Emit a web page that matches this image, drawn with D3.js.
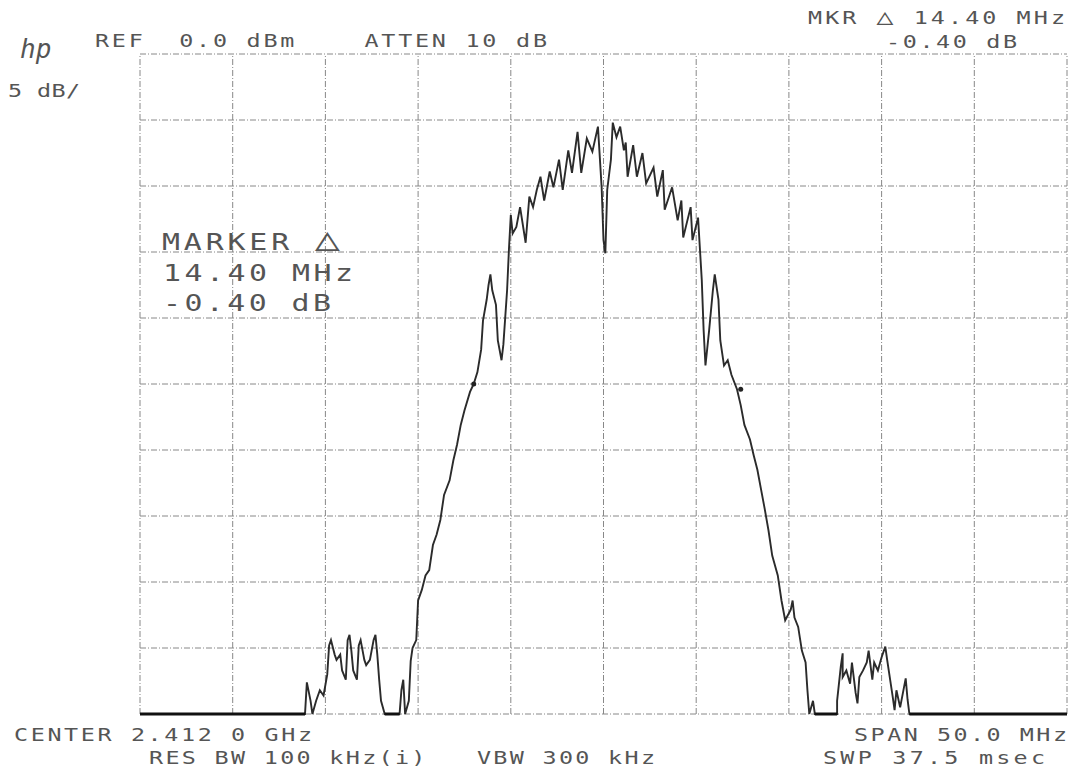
<!DOCTYPE html>
<html>
<head>
<meta charset="utf-8">
<script src="https://cdn.jsdelivr.net/npm/d3@7"></script>
<style>
  body { margin: 0; background: #fff; }
  svg text { font-family: "DejaVu Sans Mono", "Liberation Mono", monospace; fill: #555; white-space: pre; }
</style>
</head>
<body>
<div id="chart"></div>
<script>
// Analyzer settings
const centerGHz = 2.412;
const spanMHz = 50;
const refDbm = 0;
const dbPerDiv = 5;
const divisions = 10;

// Trace, frequency offset from center (MHz) and level (dBm)
const traceMHz = [-25, -16.1, -16.0, -15.8, -15.7, -15.5, -15.3, -15.1, -14.9, -14.8, -14.7, -14.5, -14.4, -14.2, -14.1, -13.9, -13.8, -13.7, -13.6, -13.5, -13.3, -13.2, -13.1, -12.9, -12.8, -12.6, -12.4, -12.3, -12.2, -12.1, -12.0, -11.8, -11.0, -10.9, -10.8, -10.7, -10.5, -10.4, -10.3, -10.1, -10.0,
  -9.8, -9.6, -9.4, -9.2, -9.0, -8.8, -8.6, -8.3, -8.1, -7.9, -7.7, -7.5, -7.2, -7.0, -6.8, -6.6, -6.5, -6.3, -6.2, -6.1, -6.0, -5.8, -5.7, -5.5, -5.4, -5.2, -5.1, -5.0,
  -4.9, -4.7, -4.5, -4.2, -4.0, -3.8, -3.6, -3.4, -3.2, -2.9, -2.7, -2.4, -2.2, -1.9, -1.7, -1.4, -1.2, -0.9, -0.6, -0.3, -0.1, 0.0, 0.1, 0.2, 0.4, 0.5, 0.7, 0.9, 1.1, 1.2, 1.3, 1.6, 1.8, 2.1, 2.3, 2.7, 2.9, 3.2, 3.3, 3.7, 4.0, 4.2, 4.3, 4.7, 4.8, 5.1, 5.3,
  5.4, 5.5, 5.7, 5.9, 6.0, 6.2, 6.3, 6.5, 6.7, 6.9, 7.2, 7.4, 7.6, 7.9, 8.1, 8.3, 8.5, 8.7, 8.9, 9.1, 9.4, 9.6, 9.8, 10.1, 10.2, 10.3, 10.5, 10.7, 10.9, 11.0, 11.1, 11.3, 11.4,
  12.6, 12.6, 12.8, 12.9, 12.9, 13.1, 13.3, 13.4, 13.6, 13.7, 13.8, 14.0, 14.2, 14.3, 14.5, 14.6, 14.8, 15.0, 15.2, 15.3, 15.6, 15.7, 15.8, 16.0, 16.3, 16.4, 16.5, 25];
const traceDbm = [-50, -50, -47.6, -49.0, -50, -49.0, -48.2, -48.6, -47.0, -44.8, -44.4, -45.5, -45.9, -45.5, -46.7, -47.4, -44.4, -44.0, -45.2, -46.7, -47.4, -44.8, -44.4, -45.9, -46.3, -45.9, -44.4, -44.0, -45.5, -47.4, -49.0, -50, -50, -48.2, -47.4, -50, -49.0, -46.0, -45.0, -44.4, -41.4,
  -40.6, -39.5, -39.1, -37.2, -36.4, -35.3, -33.4, -32.3, -30.8, -29.6, -28.1, -27.0, -25.6, -25.0, -24.1, -22.4, -20.2, -18.6, -17.5, -16.7, -17.9, -19.0, -21.7, -23.2, -22.0, -17.9, -14.8, -12.2,
  -13.6, -13.1, -11.6, -14.3, -10.8, -11.6, -10.3, -9.3, -11.1, -8.9, -10.1, -8.0, -10.3, -7.3, -9.0, -5.9, -9.0, -6.4, -7.4, -5.5, -10.1, -14.1, -15.1, -10.3, -8.0, -5.2, -6.3, -5.5, -7.3, -6.7, -9.3, -6.9, -9.3, -7.5, -9.8, -8.6, -10.8, -8.8, -11.8, -10.1, -12.6, -11.1, -13.9, -11.6, -14.1, -12.4, -17.1,
  -20.9, -23.6, -20.9, -17.9, -16.7, -18.6, -21.7, -23.6, -23.2, -24.3, -25.4, -26.6, -28.1, -29.2, -30.4, -31.5, -33.0, -34.5, -36.1, -38.0, -39.5, -41.4, -42.9, -42.1, -41.4, -42.7, -43.4, -45.2, -46.1, -48.2, -50, -49.0, -50,
  -50, -49.0, -46.4, -45.4, -47.2, -46.7, -47.7, -46.1, -48.4, -49.2, -47.2, -46.7, -46.1, -45.2, -47.4, -46.1, -46.7, -45.7, -44.9, -45.9, -48.7, -49.7, -48.2, -49.5, -47.3, -48.9, -50, -50];

// Delta marker pair
const markerMHz = [-7.0, 7.4];
const markerDbm = [-25.0, -25.4];

// Annotation texts
const topLeftText = "REF  0.0 dBm    ATTEN 10 dB";
const scaleText = "5 dB/";
const mkrLines = ["MKR \u25b3 14.40 MHz", "-0.40 dB"];
const markerBox = ["MARKER \u25b3", "14.40 MHz", "-0.40 dB"];
const bottomLeft = ["CENTER 2.412 0 GHz", "RES BW 100 kHz(i)   VBW 300 kHz"];
const bottomRight = ["SPAN 50.0 MHz", "SWP 37.5 msec"];

const width = 1074;
const height = 770;
const marginTop = 54;
const marginRight = 7;
const marginBottom = 56;
const marginLeft = 140;

const svg = d3.select("#chart")
  .append("svg")
  .attr("width", width)
  .attr("height", height)
  .attr("viewBox", [0, 0, width, height]);

const x = d3.scaleLinear()
  .domain([-spanMHz / 2, spanMHz / 2])
  .range([marginLeft, width - marginRight]);

const y = d3.scaleLinear()
  .domain([refDbm - dbPerDiv * divisions, refDbm])
  .range([height - marginBottom, marginTop]);

const xTicks = d3.range(divisions + 1).map(i => -spanMHz / 2 + i * spanMHz / divisions);
const yTicks = d3.range(divisions + 1).map(i => refDbm - i * dbPerDiv);

// graticule, dash-dot like the plotter pen
const grid = svg.append("g")
  .attr("stroke", "#747474")
  .attr("stroke-width", 1)
  .attr("stroke-dasharray", "6 2 1 2")
  .attr("opacity", 0.85);

grid.selectAll(".vline")
  .data(xTicks)
  .join("line")
  .attr("x1", d => x(d)).attr("x2", d => x(d))
  .attr("y1", y.range()[0]).attr("y2", y.range()[1]);

grid.selectAll(".hline")
  .data(yTicks)
  .join("line")
  .attr("x1", x.range()[0]).attr("x2", x.range()[1])
  .attr("y1", d => y(d)).attr("y2", d => y(d));

// trace
const trace = traceMHz.map((f, i) => [f, traceDbm[i]]);
const line = d3.line()
  .x(d => x(d[0]))
  .y(d => y(d[1]));

svg.append("path")
  .datum(trace)
  .attr("fill", "none")
  .attr("stroke", "#2b2b2b")
  .attr("stroke-width", 1.9)
  .attr("stroke-linejoin", "miter")
  .attr("d", line);

// floor segments are drawn heavier
svg.append("g")
  .selectAll("line")
  .data(d3.pairs(trace).filter(([a, b]) => a[1] === b[1] && a[1] === y.domain()[0]))
  .join("line")
  .attr("x1", d => x(d[0][0])).attr("x2", d => x(d[1][0]))
  .attr("y1", d => y(d[0][1])).attr("y2", d => y(d[1][1]))
  .attr("stroke", "#111")
  .attr("stroke-width", 3);

// markers
svg.append("g")
  .selectAll("circle")
  .data(markerMHz)
  .join("circle")
  .attr("cx", d => x(d))
  .attr("cy", (d, i) => y(markerDbm[i]))
  .attr("r", 2.5)
  .attr("fill", "#222");

// hp logo
svg.append("text")
  .attr("x", 20).attr("y", 58)
  .attr("font-size", 26)
  .attr("font-style", "italic")
  .attr("font-family", "DejaVu Serif")
  .style("fill", "#555")
  .text("hp");

// plotter lettering is wide, so stretch glyphs horizontally
const stretch = 1.3;
const label = (str, x0, y0, size, len, triScale = 1.4) => {
  const t = svg.append("text")
    .attr("transform", `scale(${stretch},1)`)
    .attr("x", x0 / stretch).attr("y", y0)
    .attr("font-size", size)
    .attr("textLength", len / stretch)
    .attr("lengthAdjust", "spacing");
  str.split(/(\u25b3)/).filter(s => s.length).forEach(part => {
    const sp = t.append("tspan").text(part);
    if (part === "\u25b3") sp.attr("font-size", size * triScale);
  });
  return t;
};

label(topLeftText, 95, 47, 18, 452);
label(scaleText, 8, 97, 18, 72);
label(mkrLines[0], 808, 24, 18, 257, 1.2);
label(mkrLines[1], 886, 48, 18, 131);

label(markerBox[0], 162, 250, 23, 178);
label(markerBox[1], 163, 281, 23, 190);
label(markerBox[2], 163, 311, 23, 168);

label(bottomLeft[0], 14, 741, 18, 298);
label(bottomLeft[1], 149, 764, 18, 506);
label(bottomRight[0], 854, 741, 18, 213);
label(bottomRight[1], 823, 764, 18, 222);
</script>
</body>
</html>
